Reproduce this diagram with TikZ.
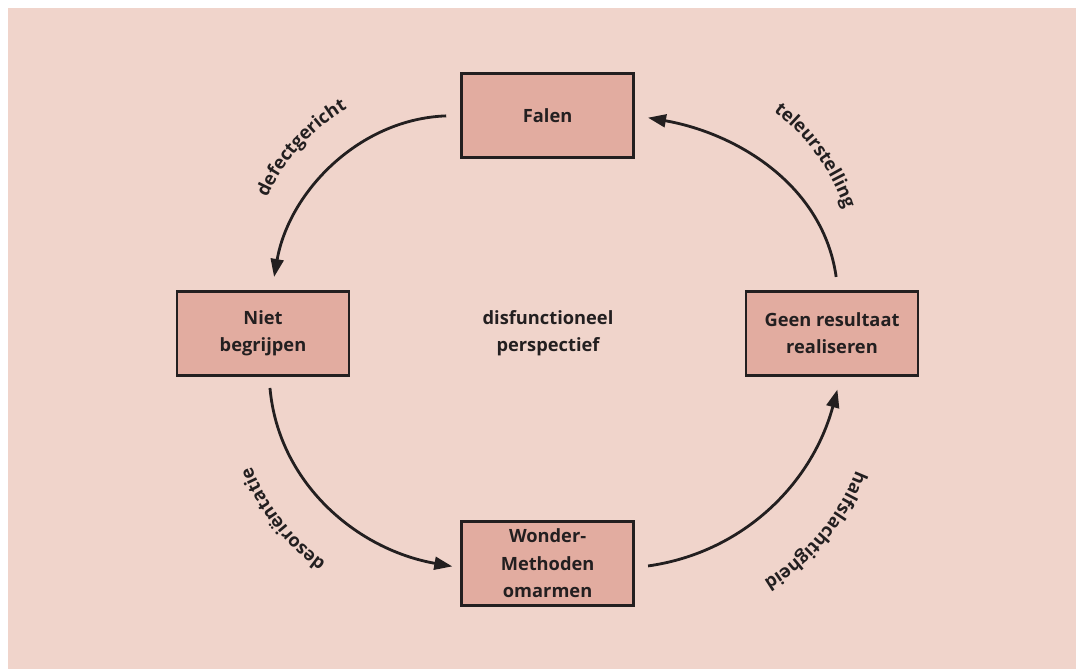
\documentclass[tikz,border=0pt]{standalone}
\usepackage{fontspec}
\setmainfont{Open Sans}
\usetikzlibrary{arrows.meta,decorations.text}
\definecolor{bgcol}{RGB}{240,212,203}
\definecolor{boxcol}{RGB}{226,172,160}
\definecolor{inkcol}{RGB}{35,31,32}
\tikzset{
  box/.style={draw=inkcol, line width=2pt, fill=boxcol, minimum width=4.3cm,
    minimum height=2.1cm, align=center, text=inkcol,
    font=\bfseries\fontsize{13}{19.5}\selectfont},
  arr/.style={draw=inkcol, line width=2pt, -{Triangle[length=4.5mm,width=3.2mm]}},
  curved label/.style={decorate, decoration={text along path, text align=center,
    text color=inkcol, text={|\bfseries\fontsize{13}{15}\selectfont|#1}}}
}
\begin{document}
\begin{tikzpicture}
\useasboundingbox (0,0) rectangle (26.9,16.725);
\fill[bgcol] (0.2,0) rectangle (26.9,16.525);

\node[box] (falen) at (13.69,13.84) {Falen};
\node[box] (niet) at (6.575,8.39) {Niet\\begrijpen};
\node[box] (geen) at (20.8,8.39) {Geen resultaat\\realiseren};
\node[box] (wonder) at (13.69,2.64) {Wonder-\\Methoden\\omarmen};
\node[align=center, text=inkcol, font=\bfseries\fontsize{13}{19.5}\selectfont]
  (midden) at (13.7,8.4) {disfunctioneel\\perspectief};

% pijlen
\draw[arr, shorten <=0.35cm, shorten >=0.33cm] (falen.west) to[out=182,in=80] ([xshift=0.22cm]niet.north);
\draw[arr, shorten <=0.33cm, shorten >=0.33cm] ([xshift=0.15cm]geen.north) to[out=98,in=-10] (falen.east);
\draw[arr, shorten <=0.28cm, shorten >=0.2cm] ([xshift=0.15cm]niet.south) to[out=-85,in=170] ([yshift=-0.11cm]wonder.west);
\draw[arr, shorten <=0.33cm, shorten >=0.33cm] ([yshift=-0.11cm]wonder.east) to[out=8,in=255] ([xshift=0.22cm]geen.south);

% labels langs de bogen
\path[curved label=defectgericht] (11.15,9.775) ++(162:4.9) arc[start angle=162,end angle=114,radius=4.9];
\path[curved label=teleurstelling] (16.2,9.8) ++(60:5.2) arc[start angle=60,end angle=12,radius=5.2];
\path[curved label=desoriëntatie] (11.3,7.05) ++(242:5.4) arc[start angle=242,end angle=194,radius=5.4];
\path[curved label=halfslachtigheid] (16.2,6.975) ++(350:5.58) arc[start angle=350,end angle=290,radius=5.58];
\end{tikzpicture}
\end{document}
